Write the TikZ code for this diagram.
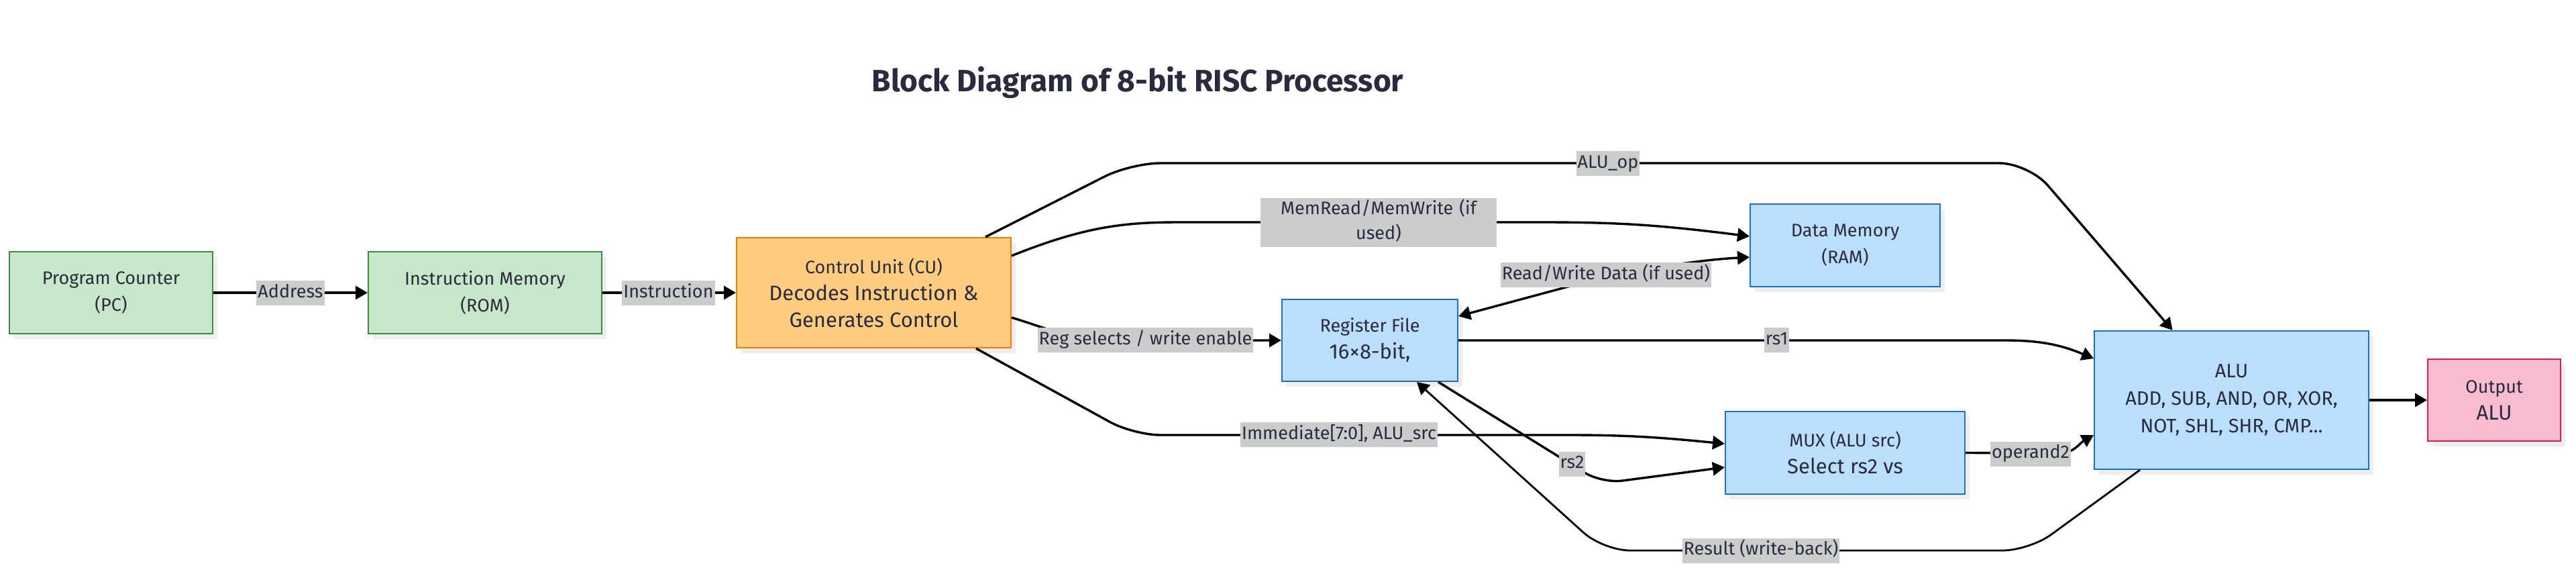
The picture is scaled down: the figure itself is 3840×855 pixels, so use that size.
\documentclass[tikz,border=0pt]{standalone}
\usepackage{fontspec}
\setmainfont{Fira Sans}
\usetikzlibrary{arrows.meta,shadows}
\definecolor{txt}{HTML}{2A2A40}
\definecolor{gfill}{HTML}{C8E6C9}\definecolor{gdraw}{HTML}{388E3C}
\definecolor{ofill}{HTML}{FFCC80}\definecolor{odraw}{HTML}{F57C00}
\definecolor{bfill}{HTML}{BBDEFB}\definecolor{bdraw}{HTML}{1E6FCC}
\definecolor{pfill}{HTML}{F8BBD0}\definecolor{pdraw}{HTML}{D81B60}
\definecolor{lblfill}{HTML}{CCCCCC}
\definecolor{shd}{HTML}{EEEEEE}
\tikzset{
  box/.style={draw, line width=1pt, font=\fontsize{13.5}{20}\selectfont, text=txt, align=center, inner sep=2pt,
    drop shadow={shadow xshift=3.5pt, shadow yshift=-4pt, fill=shd, opacity=1, draw=none}},
  gbox/.style={box, fill=gfill, draw=gdraw},
  obox/.style={box, fill=ofill, draw=odraw},
  bbox/.style={box, fill=bfill, draw=bdraw},
  pbox/.style={box, fill=pfill, draw=pdraw},
  arr/.style={draw=black, line width=1.7pt, -{Triangle[length=9pt,width=10pt]}},
  darr/.style={draw=black, line width=1.7pt, {Triangle[length=9pt,width=10pt]}-{Triangle[length=9pt,width=10pt]}},
  lbl/.style={fill=lblfill, text=txt, font=\fontsize{13.5}{18.3}\selectfont, inner xsep=1pt, inner ysep=0pt,
    minimum height=18.5pt, text height=9.8pt, text depth=3.2pt},
}
\newcommand{\bigtxt}{\fontsize{15.5}{20}\selectfont}
\newcommand{\alutxt}{\fontsize{14.5}{20.5}\selectfont}
\begin{document}
\begin{tikzpicture}[x=0.5pt,y=-0.5pt]
\useasboundingbox (0,0) rectangle (3840,855);
\node[font=\fontsize{23}{26}\selectfont\bfseries, text=txt, anchor=base] (title) at (1696,137) {Block Diagram of 8-bit RISC Processor};

\node[gbox, minimum width=151.5pt, minimum height=61pt] (PC) at (165.5,436) {Program Counter\\(PC)};
\node[gbox, minimum width=174pt, minimum height=61pt] (IM) at (723,436) {Instruction Memory\\(ROM)};
\node[obox, minimum width=204.5pt, minimum height=82pt] (CU) at (1302.5,436) {Control Unit (CU)\\{\bigtxt Decodes Instruction \&}\\{\bigtxt Generates Control}};
\node[bbox, minimum width=131pt, minimum height=61pt] (RF) at (2042,507) {Register File\\{\bigtxt 16×8-bit,}};
\node[bbox, minimum width=141.5pt, minimum height=61.5pt] (DM) at (2750.5,365.5) {Data Memory\\(RAM)};
\node[bbox, minimum width=178.5pt, minimum height=61.5pt] (MUX) at (2750.5,674.5) {MUX (ALU src)\\{\bigtxt Select rs2 vs}};
\node[bbox, minimum width=204.5pt, minimum height=103pt, font=\alutxt] (ALU) at (3326.5,596) {ALU\\ADD, SUB, AND, OR, XOR,\\NOT, SHL, SHR, CMP...};
\node[pbox, minimum width=99pt, minimum height=61pt] (OUT) at (3718,596) {Output\\{\bigtxt ALU}};

% edges
\draw[arr] (PC) -- (IM);
\draw[arr] (IM) -- (CU);
\draw[arr, rounded corners=22pt] ([xshift=-19.5pt]CU.north east) -- (1686,243) -- (3024,243) -- ([xshift=-44pt]ALU.north);
\draw[arr] ([yshift=-14pt]CU.north east) .. controls (1620,336) and (1680,331) .. (1760,331) -- (2300,331) .. controls (2420,331) and (2480,336) .. ([yshift=6.75pt]DM.west);
\draw[arr] ([yshift=-18.5pt]CU.east) .. controls (1570,492) and (1600,507) .. (1650,507) -- (RF.west);
\draw[arr, rounded corners=20pt] ([xshift=76.25pt]CU.south) -- (1690,648) -- (2300,648) .. controls (2430,648) and (2480,652) .. ([yshift=6.75pt]MUX.west);
\draw[arr] (RF.east) -- (2990,507) .. controls (3045,507) and (3075,515) .. ([yshift=31pt]ALU.west);
\draw[arr, rounded corners=15pt] ([xshift=51pt]RF.south) -- (2388,720) -- ([yshift=-10.75pt]MUX.west);
\draw[arr] (MUX.east) -- (3070,675) .. controls (3092,675) and (3100,660) .. ([yshift=-26pt]ALU.west);
\draw[arr] (ALU.east) -- (OUT.west);
\draw[arr, line width=1.4pt, rounded corners=20pt] ([xshift=-68.25pt]ALU.south) -- (3025,820) -- (2390,820) -- ([xshift=35pt]RF.south);
\draw[darr] ([yshift=18pt]RF.east) -- (2330,429) .. controls (2420,405) and (2520,388) .. ([yshift=-8.75pt]DM.west);

% labels
\node[lbl] (lAddr) at (433,436.5) {Address};
\node[lbl] (lInstr) at (996.5,436.5) {Instruction};
\node[lbl] (lAluop) at (2397,243.5) {ALU\_op};
\node[lbl, align=center, text width=170pt, inner xsep=3pt, text height=9.8pt, text depth=21.5pt, minimum height=36.5pt] (lMem) at (2055,331.5) {MemRead/MemWrite (if\\used)};
\node[lbl] (lReg) at (1707.5,506.5) {Reg selects / write enable};
\node[lbl] (lImm) at (1996,647.5) {Immediate[7:0], ALU\_src};
\node[lbl] (lRs1) at (2648.5,506.5) {rs1};
\node[lbl] (lRs2) at (2343.5,691) {rs2};
\node[lbl] (lOp2) at (3027,676) {operand2};
\node[lbl] (lRes) at (2625,820) {Result (write-back)};
\node[lbl] (lRW) at (2394,410) {Read/Write Data (if used)};
\end{tikzpicture}
\end{document}
